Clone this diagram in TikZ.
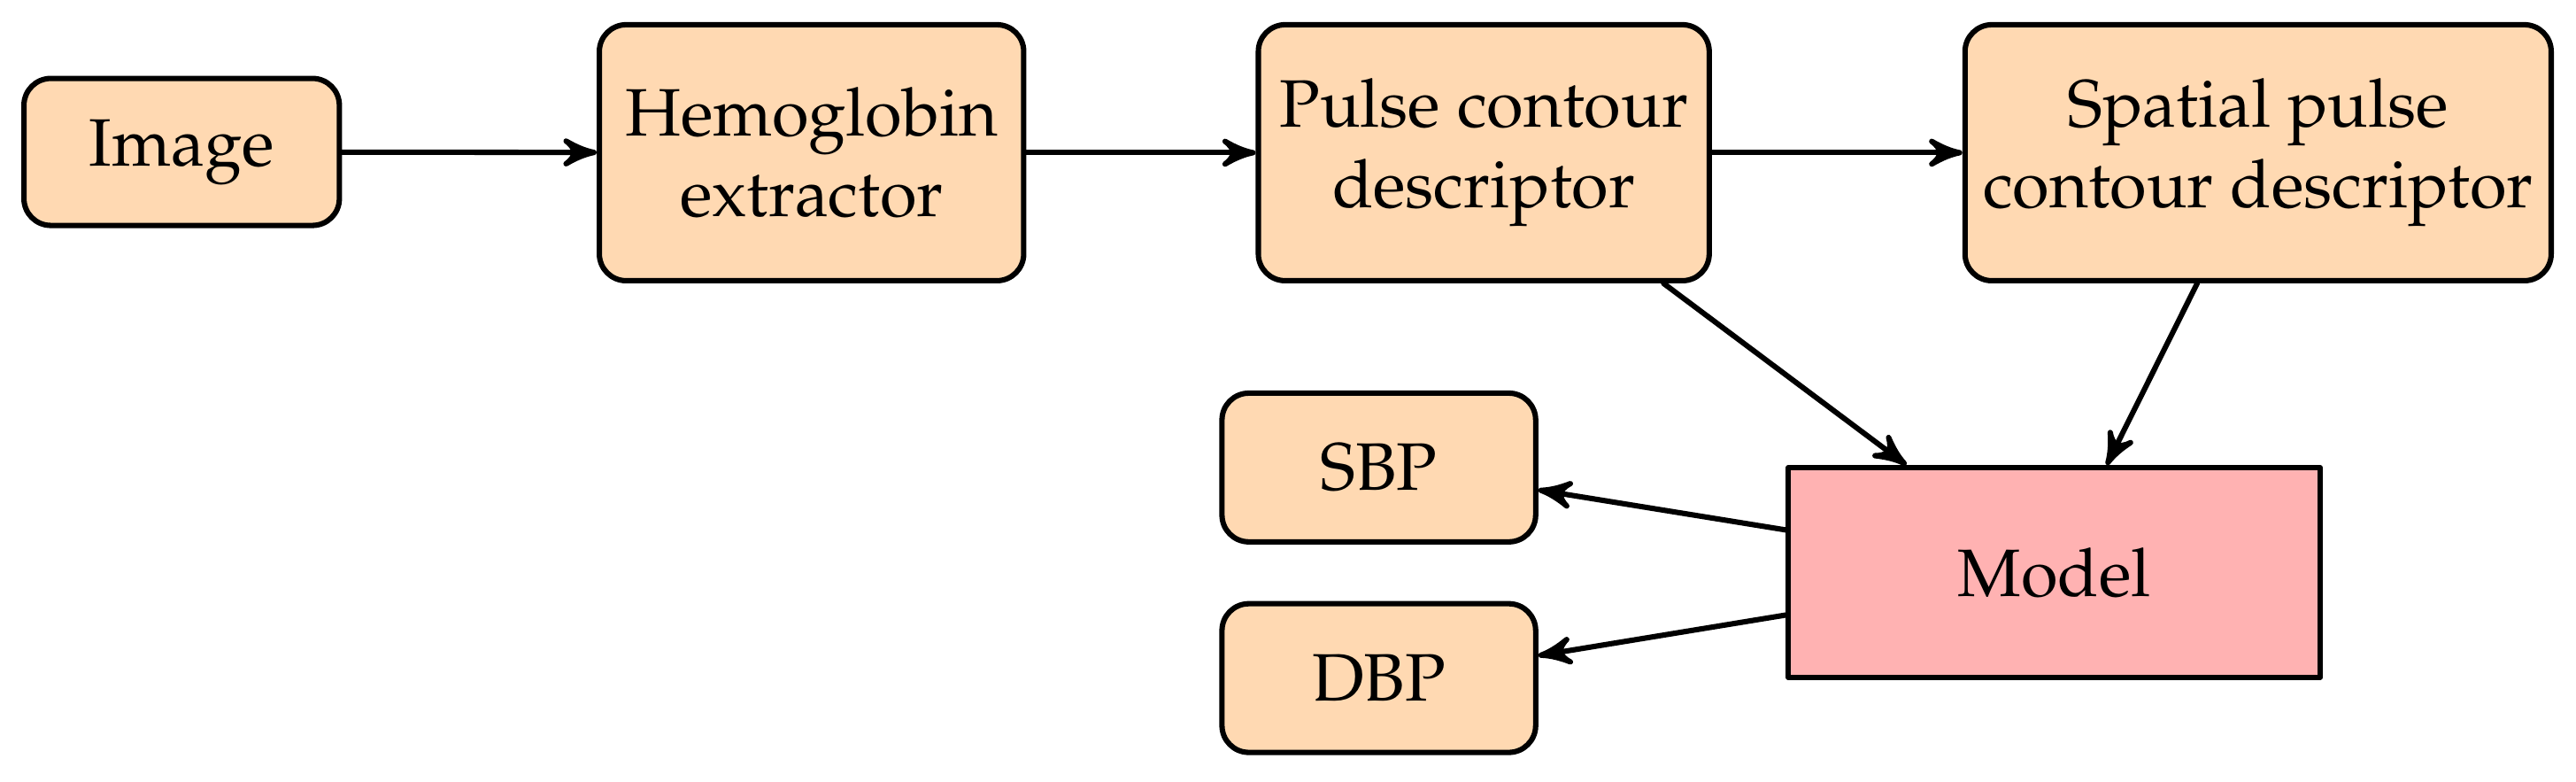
\documentclass[tikz,border=0pt]{standalone}
\usepackage[T1]{fontenc}
\usepackage{mathpazo}
\usepackage{tikz}
\tikzset{>=latex}
\usetikzlibrary{shapes,arrows}
\usetikzlibrary{calc}
\tikzset{
  blk/.style={draw=black,thick,fill=orange!30,rounded corners=4pt,align=center,inner sep=0pt},
  mdl/.style={draw=black,thick,fill=red!30,align=center,inner sep=0pt}
}
\begin{document}
\begin{tikzpicture}[line cap=round,line join=round,>=stealth',x=1.0cm,y=1.0cm]
		\useasboundingbox (0.,0.) rectangle (13.5,-4.093);
		\node [blk,minimum width=1.653cm,minimum height=0.770cm] (img) at (0.952,-0.796) {Image};
		\node [blk,minimum width=2.224cm,minimum height=1.341cm] (hemo) at (4.253,-0.800) {Hemoglobin\\extractor};
		\node [blk,minimum width=2.363cm,minimum height=1.341cm] (pcd) at (7.776,-0.800) {Pulse contour\\descriptor};
		\node [blk,minimum width=3.072cm,minimum height=1.341cm] (spcd) at (11.834,-0.800) {Spatial pulse\\contour descriptor};
		\node [blk,minimum width=1.644cm,minimum height=0.779cm] (sbp) at (7.226,-2.449) {SBP};
		\node [blk,minimum width=1.644cm,minimum height=0.779cm] (dbp) at (7.226,-3.552) {DBP};
		\node [mdl,minimum width=2.787cm,minimum height=1.099cm] (model) at (10.766,-2.999) {Model};
		\draw [->,thick] (img) -- (hemo);
		\draw [->,thick] (hemo) -- (pcd);
		\draw [->,thick] (pcd) -- (spcd);
		\draw [->,thick] (pcd.-36) -- (model.144);
		\draw [->,thick] (spcd.-115) -- (model.64);
		\draw [->,thick] (model.171) -- (sbp.-8);
		\draw [->,thick] (model.-171) -- (dbp.8);
		\end{tikzpicture}
\end{document}
